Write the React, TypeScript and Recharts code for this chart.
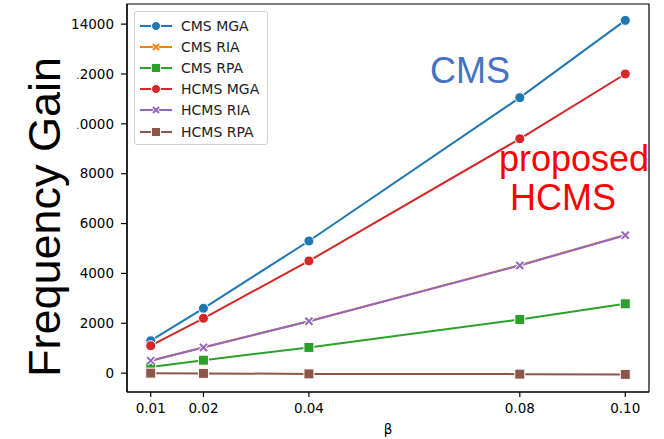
import React from 'react';
import { LineChart, Line, XAxis, YAxis, ReferenceArea } from 'recharts';

const betas = [0.01, 0.02, 0.04, 0.08, 0.1];
const cmsMga = [1300, 2600, 5300, 11050, 14150];
const cmsRia = [500, 1040, 2080, 4330, 5540];
const cmsRpa = [250, 520, 1030, 2150, 2780];
const hcmsMga = [1100, 2200, 4500, 9400, 12000];
const hcmsRia = [500, 1030, 2080, 4320, 5530];
const hcmsRpa = [0, -10, -30, -40, -50];
const yTicks = [0, 2000, 4000, 6000, 8000, 10000, 12000, 14000];

const series = [
  { key: 'cmsMga', name: 'CMS MGA', color: '#1f77b4', shape: 'circle' },
  { key: 'cmsRia', name: 'CMS RIA', color: '#ff7f0e', shape: 'x' },
  { key: 'cmsRpa', name: 'CMS RPA', color: '#2ca02c', shape: 'square' },
  { key: 'hcmsMga', name: 'HCMS MGA', color: '#d62728', shape: 'circle' },
  { key: 'hcmsRia', name: 'HCMS RIA', color: '#9467bd', shape: 'x' },
  { key: 'hcmsRpa', name: 'HCMS RPA', color: '#8c564b', shape: 'square' },
];

const data = betas.map((b, i) => ({
  beta: b,
  cmsMga: cmsMga[i],
  cmsRia: cmsRia[i],
  cmsRpa: cmsRpa[i],
  hcmsMga: hcmsMga[i],
  hcmsRia: hcmsRia[i],
  hcmsRpa: hcmsRpa[i],
}));

const X_DOMAIN = [0.0055, 0.1045];
const Y_DOMAIN = [-757, 14807];
const FONT = '"DejaVu Sans", sans-serif';
const ARIAL = '"Liberation Sans", Arial, sans-serif';

const Marker = ({ cx, cy, shape, color, size = 5 }: any) => {
  if (cx == null || cy == null) return null;
  if (shape === 'circle') {
    return <circle cx={cx} cy={cy} r={size} fill={color} stroke="#fff" strokeWidth={1} />;
  }
  if (shape === 'square') {
    return <rect x={cx - size} y={cy - size} width={size * 2} height={size * 2} fill={color} stroke="#fff" strokeWidth={1} />;
  }
  const d = size - 1.5;
  const p = `M${cx - d},${cy - d}L${cx + d},${cy + d}M${cx - d},${cy + d}L${cx + d},${cy - d}`;
  return (
    <g>
      <path d={p} stroke="#fff" strokeWidth={3.5} />
      <path d={p} stroke={color} strokeWidth={2} />
    </g>
  );
};

const LegendBox = () => (
  <div
    style={{
      position: 'absolute',
      left: 134,
      top: 11,
      width: 134,
      height: 134,
      background: '#fff',
      border: '1px solid #d0d0d0',
      borderRadius: 3,
      boxSizing: 'border-box',
      paddingTop: 3,
      fontFamily: FONT,
      fontSize: 14,
    }}
  >
    {series.map((s) => (
      <div key={s.key} style={{ display: 'flex', alignItems: 'center', height: 21.2 }}>
        <svg width={44} height={20} style={{ flex: 'none' }}>
          <line x1={5} x2={37} y1={10} y2={10} stroke={s.color} strokeWidth={2} />
          <Marker cx={21} cy={10} shape={s.shape} color={s.color} size={4.5} />
        </svg>
        <span style={{ color: '#222', marginLeft: 2, whiteSpace: 'nowrap' }}>{s.name}</span>
      </div>
    ))}
  </div>
);

// white patch over the left tick labels, then the big axis title
const YLabel = () => (
  <svg width={80} height={439} style={{ position: 'absolute', left: 0, top: 0 }}>
    <rect x={0} y={36} width={77.5} height={330} fill="#fff" />
    <text x={60} y={217} transform="rotate(-90 60 217)" textAnchor="middle" fontSize={45} fontFamily={ARIAL} fill="#000">
      Frequency Gain
    </text>
  </svg>
);

export default function App() {
  return (
    <div style={{ position: 'absolute', left: 0, top: 0, width: 664, height: 439, background: '#fff' }}>
      <LineChart width={664} height={439} data={data} margin={{ top: 4, right: 15, left: 0, bottom: 0 }}>
        <XAxis
          type="number"
          dataKey="beta"
          domain={X_DOMAIN}
          ticks={betas}
          allowDataOverflow
          tickFormatter={(v: number) => v.toFixed(2)}
          height={47}
          tick={{ fill: '#000', fontSize: 13.5, fontFamily: FONT }}
          tickSize={5}
          tickMargin={6}
          axisLine={{ stroke: '#000', strokeWidth: 1.2 }}
          tickLine={{ stroke: '#000', strokeWidth: 1.2 }}
          label={{ value: 'β', position: 'insideBottom', offset: 5, fill: '#000', fontSize: 13.5, fontFamily: FONT }}
        />
        <YAxis
          type="number"
          domain={Y_DOMAIN}
          ticks={yTicks}
          allowDataOverflow
          width={127}
          tick={{ fill: '#000', fontSize: 13.5, fontFamily: FONT }}
          tickSize={6}
          tickMargin={7}
          axisLine={{ stroke: '#000', strokeWidth: 1.2 }}
          tickLine={{ stroke: '#000', strokeWidth: 1.2 }}
        />
        <ReferenceArea
          x1={X_DOMAIN[0]}
          x2={X_DOMAIN[1]}
          y1={Y_DOMAIN[0]}
          y2={Y_DOMAIN[1]}
          fill="none"
          stroke="#000"
          strokeWidth={1.2}
          fillOpacity={0}
          ifOverflow="visible"
        />
        {series.map((s) => (
          <Line
            key={s.key}
            type="linear"
            dataKey={s.key}
            name={s.name}
            stroke={s.color}
            strokeWidth={2}
            isAnimationActive={false}
            dot={(p: any) => <Marker key={`${s.key}-${p.index}`} cx={p.cx} cy={p.cy} shape={s.shape} color={s.color} />}
            activeDot={false}
          />
        ))}
        <text x={430} y={83} fontSize={36} fontFamily={ARIAL} fill="#4472c4">
          CMS
        </text>
        <text x={499} y={171} fontSize={36} fontFamily={ARIAL} fill="#ff0000">
          proposed
        </text>
        <text x={510} y={210} fontSize={36} fontFamily={ARIAL} fill="#ff0000">
          HCMS
        </text>
      </LineChart>
      <LegendBox />
      <YLabel />
    </div>
  );
}
